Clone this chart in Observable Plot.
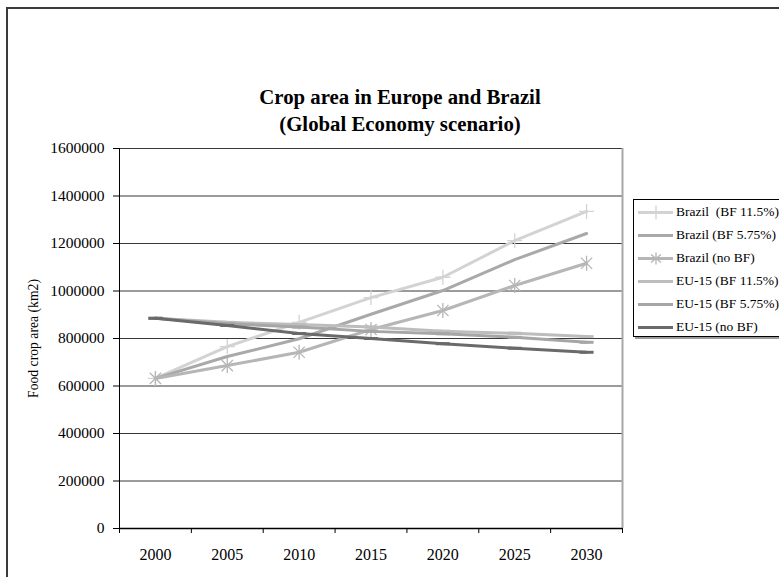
<!DOCTYPE html>
<html>
<head>
<meta charset="utf-8">
<script src="https://cdn.jsdelivr.net/npm/d3@7"></script>
<script src="https://cdn.jsdelivr.net/npm/@observablehq/plot@0.6"></script>
<style>
  html, body { margin: 0; padding: 0; background: #fff; overflow: hidden; }
  #wrap { position: relative; width: 779px; height: 577px; overflow: hidden; font-family: "Liberation Serif", "Times New Roman", serif; }
  #frame { position: absolute; left: 6px; top: 7px; width: 900px; height: 700px; border-left: 2px solid #3a3a3a; border-top: 2px solid #3a3a3a; box-sizing: border-box; }
  #title { position: absolute; left: 150px; width: 500px; top: 83px; text-align: center; font-weight: bold; font-size: 20.8px; line-height: 27px; color: #000; }
  #legend { position: absolute; left: 633px; top: 199px; width: 170px; height: 138px; border: 1px solid #000; box-shadow: 2px 2px 0 #9a9a9a; background: #fff; box-sizing: border-box; }
  .entry { position: absolute; left: 0; height: 23px; width: 170px; }
  .entry svg { position: absolute; left: 0; top: 0; }
  .entry span { position: absolute; left: 42px; top: 3px; font-size: 13.5px; line-height: 16px; white-space: pre; color: #000; }
  #chart { position: absolute; left: 0; top: 0; }
</style>
</head>
<body>
<div id="wrap">
  <div id="chart"></div>
  <div id="frame"></div>
  <div id="title"></div>
  <div id="legend"></div>
</div>
<script>
// ---- data ----
const years = [2000, 2005, 2010, 2015, 2020, 2025, 2030];
const seriesNames = ["Brazil  (BF 11.5%)", "Brazil (BF 5.75%)", "Brazil (no BF)", "EU-15 (BF 11.5%)", "EU-15 (BF 5.75%)", "EU-15 (no BF)"];
const brazilBF115 = [632000, 766000, 868000, 972000, 1058000, 1212000, 1335000];
const brazilBF575 = [632000, 724000, 799000, 902000, 1002000, 1132000, 1242000];
const brazilNoBF  = [632000, 686000, 742000, 838000, 918000, 1023000, 1117000];
const eu15BF115   = [885000, 868000, 859000, 848000, 831000, 822000, 808000];
const eu15BF575   = [885000, 862000, 848000, 830000, 820000, 805000, 784000];
const eu15NoBF    = [885000, 855000, 821000, 800000, 778000, 759000, 742000];
const seriesValues = [brazilBF115, brazilBF575, brazilNoBF, eu15BF115, eu15BF575, eu15NoBF];
const seriesColors = ["#d3d3d3", "#a9a9a9", "#b6b6b6", "#bdbdbd", "#a6a6a6", "#6a6a6a"];
const seriesMarkers = ["plus", "none", "asterisk", "dash", "dash", "dash"];
const yTicks = [0, 200000, 400000, 600000, 800000, 1000000, 1200000, 1400000, 1600000];
const xBoundaries = [1997.5, 2002.5, 2007.5, 2012.5, 2017.5, 2022.5, 2027.5, 2032.5];
const titleLines = ["Crop area in Europe and Brazil", "(Global Economy scenario)"];
const yLabel = "Food crop area (km2)";

// ---- symbols ----
const symPlus = { draw(ctx, size) { const r = Math.sqrt(size / Math.PI); ctx.moveTo(-r, 0); ctx.lineTo(r, 0); ctx.moveTo(0, -r); ctx.lineTo(0, r); } };
const symAst = { draw(ctx, size) { const r = Math.sqrt(size / Math.PI); const d = r * 0.75; ctx.moveTo(-d, -d); ctx.lineTo(d, d); ctx.moveTo(-d, d); ctx.lineTo(d, -d); ctx.moveTo(0, -r); ctx.lineTo(0, r); } };
const symDash = { draw(ctx, size) { const r = Math.sqrt(size / Math.PI); ctx.moveTo(-r, 0); ctx.lineTo(r, 0); } };
const symbols = { plus: symPlus, asterisk: symAst, dash: symDash };

const rows = seriesNames.flatMap((name, i) => years.map((year, j) => ({ series: name, year, value: seriesValues[i][j] })));

const seriesMarks = seriesNames.flatMap((name, i) => {
  const data = rows.filter(d => d.series === name);
  const m = [Plot.line(data, { x: "year", y: "value", stroke: seriesColors[i], strokeWidth: 3 })];
  const mk = seriesMarkers[i];
  if (mk !== "none") {
    m.push(Plot.dot(data, { x: "year", y: "value", symbol: symbols[mk], r: mk === "dash" ? 7 : 7.5, fill: "none", stroke: seriesColors[i], strokeWidth: mk === "dash" ? 3 : 1.3 }));
  }
  return m;
});

const chart = Plot.plot({
  width: 779,
  height: 577,
  marginLeft: 119,
  marginRight: 157,
  marginTop: 148,
  marginBottom: 49,
  style: { fontFamily: '"Liberation Serif", "Times New Roman", serif', background: "transparent", color: "#000" },
  x: { domain: [1997.5, 2032.5] },
  y: { domain: [0, 1600000] },
  marks: [
    Plot.gridY(yTicks, { stroke: "#222", strokeOpacity: 0.9, strokeWidth: 1 }),
    Plot.ruleX([2032.5], { stroke: "#a8a8a8", strokeWidth: 2 }),
    Plot.axisY({ ticks: yTicks, tickFormat: d3.format("d"), tickSize: 6, tickPadding: 9, fontSize: 15.5, label: null, stroke: "#000" }),
    Plot.axisX({ ticks: xBoundaries, tickFormat: () => "", tickSize: 5, label: null, stroke: "#000" }),
    Plot.axisX({ ticks: years, tickFormat: d => String(d), tickSize: 0, tickPadding: 20, fontSize: 16, label: null }),
    ...seriesMarks,
    Plot.ruleX([1997.5], { stroke: "#000", strokeWidth: 1 }),
    Plot.ruleY([0], { stroke: "#000", strokeWidth: 1.5 }),
    Plot.text([yLabel], { frameAnchor: "left", textAnchor: "middle", dx: -86, rotate: -90, fontSize: 13.7, fill: "#000" })
  ]
});
document.getElementById("chart").appendChild(chart);
document.getElementById("title").innerHTML = titleLines.join("<br>");

// ---- legend ----
const legend = document.getElementById("legend");
seriesNames.forEach((name, i) => {
  const e = document.createElement("div");
  e.className = "entry";
  e.style.top = (1 + i * 23) + "px";
  const c = seriesColors[i];
  let mk = "";
  if (seriesMarkers[i] === "plus") mk = `<path d="M22,4.5V18.5M15,11.5H29" stroke="${c}" stroke-width="1.3" fill="none"/>`;
  if (seriesMarkers[i] === "asterisk") mk = `<path d="M17,7.5L27,15.5M17,15.5L27,7.5M22,5.5V17.5" stroke="${c}" stroke-width="1.3" fill="none"/>`;
  e.innerHTML = `<svg width="42" height="23"><line x1="4" x2="39" y1="11.5" y2="11.5" stroke="${c}" stroke-width="3"/>${mk}</svg><span>${name}</span>`;
  legend.appendChild(e);
});
</script>
</body>
</html>
